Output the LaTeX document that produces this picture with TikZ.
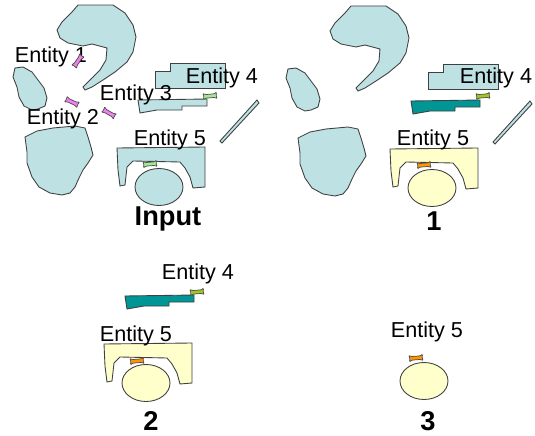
\documentclass[tikz,border=0pt]{standalone}
\usepackage{fontspec}
\setmainfont{Liberation Sans}

\definecolor{paleblue}{RGB}{190,226,228}
\definecolor{deepteal}{RGB}{0,150,150}
\definecolor{cream}{RGB}{255,255,204}
\definecolor{bonepink}{RGB}{240,130,240}
\definecolor{bonegreen}{RGB}{165,232,150}
\definecolor{bonelime}{RGB}{160,200,30}
\definecolor{boneorange}{RGB}{255,150,0}

\tikzset{
  % pieces of the scene, in pixel units
  hook/.pic={\path[pic actions] (78,5) -- (113,5) -- (125,13) -- (133,25) -- (136,37) -- (133,52) -- (127,62)
      -- (115,72) -- (103,80) -- (92,87) -- (85,90) -- (83,87) -- (90,80) -- (100,70) -- (106,60) -- (107,48)
      -- (92,44) -- (83,46) -- (68,43) -- (60,38) -- (57,30) -- (62,22) -- (72,12) -- cycle;},
  pebble/.pic={\path[pic actions] (15,68) -- (23,67) -- (32,72) -- (38,80) -- (44,88) -- (47,98) -- (45,106)
      -- (38,109) -- (32,110) -- (24,106) -- (19,97) -- (17,87) -- (13,77) -- cycle;},
  rock/.pic={\path[pic actions] (25,137) -- (37,131) -- (53,128) -- (75,126) -- (85,128) -- (88,137) -- (91,147)
      -- (93,155) -- (88,163) -- (83,170) -- (79,178) -- (75,187) -- (70,193) -- (62,195) -- (50,193)
      -- (39,187) -- (32,177) -- (27,163) -- (27,152) -- cycle;},
  upperblock/.pic={\path[pic actions] (155,71) -- (170,71) -- (170,63) -- (225,63) -- (225,88) -- (155,88) -- cycle;},
  lowerblock/.pic={\path[pic actions] (138,100) -- (207,99) -- (207,106) -- (182,106) -- (182,110) -- (157,110)
      -- (140,113) -- cycle;},
  rod/.pic={\path[pic actions] (220,141) -- (257,100) -- (259,103) -- (222,143) -- cycle;},
  bracket/.pic={\path[pic actions] (117,148) -- (205,147) -- (205,187) -- (193,188) -- (190,177) -- (185,168)
      -- (180,162) -- (133,161) -- (127,167) -- (125,185) -- (120,186) -- (118,170) -- cycle;},
  ball/.pic={\path[pic actions] (159,187) ellipse [x radius=24, y radius=18.5];},
  bone/.pic={\path[pic actions, rounded corners=0.6pt] (-7,-3.4) -- (-4.6,-1.8) -- (4.6,-1.8) -- (7,-3.4)
      -- (6,0) -- (7,3.4) -- (4.6,1.8) -- (-4.6,1.8) -- (-7,3.4) -- (-6,0) -- cycle;}
}

\begin{document}
\begin{tikzpicture}[
x=0.02cm, y=-0.02cm,
part/.style={draw=black!75, line width=0.5pt},
bluepart/.style={part, fill=paleblue},
tealpart/.style={part, fill=deepteal},
creampart/.style={part, fill=cream},
pin/.style={draw=black!70, line width=0.4pt, fill=#1},
tag/.style={font=\fontsize{12.3}{14}\selectfont, inner sep=0pt, anchor=base},
stage/.style={font=\fontsize{15.5}{18}\selectfont\bfseries, inner sep=0pt, anchor=base}
]
\useasboundingbox (0,0) rectangle (535,436);

% input
\pic[bluepart] {hook};
\pic[bluepart] {pebble};
\pic[bluepart] {rock};
\pic[bluepart] {upperblock};
\pic[bluepart] {lowerblock};
\pic[bluepart] {rod};
\pic[bluepart] {bracket};
\pic[bluepart] {ball};

\node[tag] (e1) at (51,62) {Entity 1};
\node[tag] (e2) at (63,124) {Entity 2};
\node[tag] (e3) at (136,100) {Entity 3};
\node[tag] (e4) at (222,83) {Entity 4};
\node[tag] (e5) at (170,145) {Entity 5};
\node[stage] (input) at (168,225) {Input};

\pic[pin=bonepink, rotate=55] at (78,61) {bone};
\pic[pin=bonepink, rotate=-25] at (72,102) {bone};
\pic[pin=bonepink, rotate=-30] at (109,113) {bone};
\pic[pin=bonegreen, rotate=5] at (210,96) {bone};
\pic[pin=bonegreen, rotate=5] at (150,164) {bone};

% step 1
\begin{scope}[shift={(273,1)}]
\pic[bluepart] {hook};
\pic[bluepart] {pebble};
\pic[bluepart] {rock};
\pic[bluepart] {upperblock};
\pic[tealpart] {lowerblock};
\pic[bluepart] {rod};
\pic[creampart] {bracket};
\pic[creampart] {ball};
\pic[pin=bonelime, rotate=5] at (210,95) {bone};
\pic[pin=boneorange, rotate=5] at (151,164) {bone};
\end{scope}
\node[tag] (s1e4) at (496,83) {Entity 4};
\node[tag] (s1e5) at (433,145) {Entity 5};
\node[stage] (one) at (434,230) {1};

% step 2
\begin{scope}[shift={(-13,196)}]
\pic[tealpart] {lowerblock};
\pic[creampart] {bracket};
\pic[creampart] {ball};
\pic[pin=bonelime, rotate=5] at (210,96) {bone};
\pic[pin=boneorange, rotate=5] at (150,165) {bone};
\end{scope}
\node[tag] (s2e4) at (198,279) {Entity 4};
\node[tag] (s2e5) at (136,341) {Entity 5};
\node[stage] (two) at (151,430) {2};

% step 3
\begin{scope}[shift={(265,194)}]
\pic[creampart] {ball};
\pic[pin=boneorange, rotate=5] at (151,164) {bone};
\end{scope}
\node[tag] (s3e5) at (427,337) {Entity 5};
\node[stage] (three) at (428,430) {3};
\end{tikzpicture}
\end{document}
